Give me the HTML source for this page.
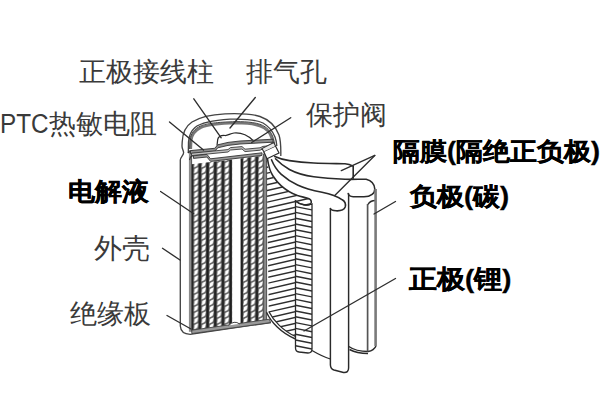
<!DOCTYPE html>
<html><head><meta charset="utf-8">
<style>
html,body{margin:0;padding:0;background:#fff;width:600px;height:400px;overflow:hidden;position:relative}
.t{position:absolute;font-family:"Liberation Sans",sans-serif;font-size:27px;line-height:1;white-space:nowrap;color:#3a3a3a;font-weight:400}
.b{font-weight:700;color:#000;-webkit-text-stroke:0.35px #000;transform:scaleY(0.93);transform-origin:0 0}
svg{position:absolute;left:0;top:0}
</style></head><body>
<svg width="600" height="400" viewBox="0 0 600 400">
<defs>
 <pattern id="cellL" x="193.6" y="0" width="7.7" height="6" patternUnits="userSpaceOnUse">
  <rect x="0" y="0" width="7.7" height="6" fill="#666"/>
  <rect x="5.1" y="0" width="2.3" height="6" fill="#1e1e1e"/>
  <polygon points="0.2,5.4 0.9,1.6 2.0,0.4 4.7,-0.8 4.0,3.0 2.9,4.2" fill="#fff"/>
  <polygon points="0.2,11.4 0.9,7.6 2.0,6.4 4.7,5.2 4.0,9.0 2.9,10.2" fill="#fff"/>
 </pattern>
 <pattern id="cellR" x="243" y="0" width="7.6" height="6" patternUnits="userSpaceOnUse">
  <rect x="0" y="0" width="7.6" height="6" fill="#666"/>
  <rect x="5.1" y="0" width="2.3" height="6" fill="#1e1e1e"/>
  <polygon points="0.2,5.4 0.9,1.6 2.0,0.4 4.7,-0.8 4.0,3.0 2.9,4.2" fill="#fff"/>
  <polygon points="0.2,11.4 0.9,7.6 2.0,6.4 4.7,5.2 4.0,9.0 2.9,10.2" fill="#fff"/>
 </pattern>
</defs>
<polygon points="191.5,164.32 232.2,159.44 232.2,324.83 191.5,330.57" fill="url(#cellL)"/>
<polygon points="240.5,158.44 263.2,155.72 263.2,320.46 240.5,323.66" fill="url(#cellR)"/>
<line x1="190.2" y1="150" x2="190.2" y2="331.8" stroke="#8c8c8c" stroke-width="2.6"/>
<line x1="191.6" y1="152" x2="191.6" y2="331.6" stroke="#444" stroke-width="0.9"/>
<line x1="265" y1="150" x2="265" y2="320.2" stroke="#8c8c8c" stroke-width="3"/>
<line x1="263.6" y1="154" x2="263.6" y2="320.4" stroke="#444" stroke-width="0.9"/>
<line x1="266.6" y1="154" x2="266.6" y2="320.0" stroke="#444" stroke-width="0.9"/>
<clipPath id="cA"><path d="M266.5,159 C267.5,166 269,171.5 272,176 C274.5,180 278,183 281.3,185.8 C286,190 292,193.5 297.5,195.5 C302,197 306,197.5 309,198.8 C311.5,200 312,202.5 310.5,204 C308,206 300,205 295.5,201 L295.5,336.5 C284,331 275,322 268.8,311.5 Z"/></clipPath>
<g clip-path="url(#cA)" stroke="#2e2e2e" stroke-width="1.45"><line x1="266" y1="138.60" x2="312" y2="128.10"/><line x1="266" y1="144.40" x2="312" y2="133.90"/><line x1="266" y1="150.20" x2="312" y2="139.70"/><line x1="266" y1="156.00" x2="312" y2="145.50"/><line x1="266" y1="161.80" x2="312" y2="151.30"/><line x1="266" y1="167.60" x2="312" y2="157.10"/><line x1="266" y1="173.40" x2="312" y2="162.90"/><line x1="266" y1="179.20" x2="312" y2="168.70"/><line x1="266" y1="185.00" x2="312" y2="174.50"/><line x1="266" y1="190.80" x2="312" y2="180.30"/><line x1="266" y1="196.60" x2="312" y2="186.10"/><line x1="266" y1="202.40" x2="312" y2="191.90"/><line x1="266" y1="208.20" x2="312" y2="197.70"/><line x1="266" y1="214.00" x2="312" y2="203.50"/><line x1="266" y1="219.80" x2="312" y2="209.30"/><line x1="266" y1="225.60" x2="312" y2="215.10"/><line x1="266" y1="231.40" x2="312" y2="220.90"/><line x1="266" y1="237.20" x2="312" y2="226.70"/><line x1="266" y1="243.00" x2="312" y2="232.50"/><line x1="266" y1="248.80" x2="312" y2="238.30"/><line x1="266" y1="254.60" x2="312" y2="244.10"/><line x1="266" y1="260.40" x2="312" y2="249.90"/><line x1="266" y1="266.20" x2="312" y2="255.70"/><line x1="266" y1="272.00" x2="312" y2="261.50"/><line x1="266" y1="277.80" x2="312" y2="267.30"/><line x1="266" y1="283.60" x2="312" y2="273.10"/><line x1="266" y1="289.40" x2="312" y2="278.90"/><line x1="266" y1="295.20" x2="312" y2="284.70"/><line x1="266" y1="301.00" x2="312" y2="290.50"/><line x1="266" y1="306.80" x2="312" y2="296.30"/><line x1="266" y1="312.60" x2="312" y2="302.10"/><line x1="266" y1="318.40" x2="312" y2="307.90"/><line x1="266" y1="324.20" x2="312" y2="313.70"/><line x1="266" y1="330.00" x2="312" y2="319.50"/><line x1="266" y1="335.80" x2="312" y2="325.30"/><line x1="266" y1="341.60" x2="312" y2="331.10"/><line x1="266" y1="347.40" x2="312" y2="336.90"/><line x1="266" y1="353.20" x2="312" y2="342.70"/><line x1="266" y1="359.00" x2="312" y2="348.50"/><line x1="266" y1="364.80" x2="312" y2="354.30"/></g>
<clipPath id="cB"><path d="M295.5,201 C300,205 308,206 312,204 L312,349 Q312,353 308,353 L299,352 Q295.5,351.5 295.5,348 Z"/></clipPath>
<g clip-path="url(#cB)" stroke="#2e2e2e" stroke-width="1.45"><line x1="295.5" y1="125.40" x2="312" y2="128.70"/><line x1="295.5" y1="131.20" x2="312" y2="134.50"/><line x1="295.5" y1="137.00" x2="312" y2="140.30"/><line x1="295.5" y1="142.80" x2="312" y2="146.10"/><line x1="295.5" y1="148.60" x2="312" y2="151.90"/><line x1="295.5" y1="154.40" x2="312" y2="157.70"/><line x1="295.5" y1="160.20" x2="312" y2="163.50"/><line x1="295.5" y1="166.00" x2="312" y2="169.30"/><line x1="295.5" y1="171.80" x2="312" y2="175.10"/><line x1="295.5" y1="177.60" x2="312" y2="180.90"/><line x1="295.5" y1="183.40" x2="312" y2="186.70"/><line x1="295.5" y1="189.20" x2="312" y2="192.50"/><line x1="295.5" y1="195.00" x2="312" y2="198.30"/><line x1="295.5" y1="200.80" x2="312" y2="204.10"/><line x1="295.5" y1="206.60" x2="312" y2="209.90"/><line x1="295.5" y1="212.40" x2="312" y2="215.70"/><line x1="295.5" y1="218.20" x2="312" y2="221.50"/><line x1="295.5" y1="224.00" x2="312" y2="227.30"/><line x1="295.5" y1="229.80" x2="312" y2="233.10"/><line x1="295.5" y1="235.60" x2="312" y2="238.90"/><line x1="295.5" y1="241.40" x2="312" y2="244.70"/><line x1="295.5" y1="247.20" x2="312" y2="250.50"/><line x1="295.5" y1="253.00" x2="312" y2="256.30"/><line x1="295.5" y1="258.80" x2="312" y2="262.10"/><line x1="295.5" y1="264.60" x2="312" y2="267.90"/><line x1="295.5" y1="270.40" x2="312" y2="273.70"/><line x1="295.5" y1="276.20" x2="312" y2="279.50"/><line x1="295.5" y1="282.00" x2="312" y2="285.30"/><line x1="295.5" y1="287.80" x2="312" y2="291.10"/><line x1="295.5" y1="293.60" x2="312" y2="296.90"/><line x1="295.5" y1="299.40" x2="312" y2="302.70"/><line x1="295.5" y1="305.20" x2="312" y2="308.50"/><line x1="295.5" y1="311.00" x2="312" y2="314.30"/><line x1="295.5" y1="316.80" x2="312" y2="320.10"/><line x1="295.5" y1="322.60" x2="312" y2="325.90"/><line x1="295.5" y1="328.40" x2="312" y2="331.70"/><line x1="295.5" y1="334.20" x2="312" y2="337.50"/><line x1="295.5" y1="340.00" x2="312" y2="343.30"/><line x1="295.5" y1="345.80" x2="312" y2="349.10"/><line x1="295.5" y1="351.60" x2="312" y2="354.90"/></g>
<path d="M295.5,201 C300,205 308,206 312,204 L312,349 Q312,353 308,353 L299,352 Q295.5,351.5 295.5,348 Z" fill="none" stroke="#2a2a2a" stroke-width="1.3"/>
<path d="M266.5,312.2 C271,322 281,333 295.5,339" fill="none" stroke="#2a2a2a" stroke-width="1.4"/>
<path d="M268.8,311.5 C273,320 283,331 295.5,336.5" fill="none" stroke="#2a2a2a" stroke-width="1.3"/>
<path d="M312,350.5 C318,354 324,357 330.3,359" fill="none" stroke="#2a2a2a" stroke-width="1.3"/>
<path d="M180.3,326 L180.3,160 C180.5,157 183.8,155 183.6,152.5 C183.4,150 182,149 182,146 L182.2,142 C182.5,132 186,126 192,122 C199,117.5 210,114.5 225,113.8 C240,113.2 252,113.8 260,116.5 C270,120 276,127 279,135 C280.6,140 281,146 280.8,156" fill="none" stroke="#444" stroke-width="1.35"/>
<path d="M180.3,326 Q180.8,334 190.2,334.3 L271,322.5" fill="none" stroke="#444" stroke-width="1.35"/>
<path d="M188.3,153 L188.5,142 C188.8,136 191,131 195,127.5 C200,123.5 210,120.5 230,119.2 C245,118.8 256,119.5 263,123 C269,126.5 273,132 275,137 C276.2,140 276.6,143 276.8,146" fill="none" stroke="#444" stroke-width="1.35"/>
<path d="M190.8,149 L191.2,140 C192,134 196,130 201,127.5 C207,125 216,123.6 236,123 C248,123 258,124 264,128 C269,131 272,136 273,144" fill="none" stroke="#777" stroke-width="2.6"/>
<path d="M189.6,149 L189.9,140 C190.8,133 195,128.5 200.5,126 C207,123.5 216,122.2 236,121.6 C248,121.6 259,122.6 265,126.8 C270.5,130.5 273.6,136 274.5,144" fill="none" stroke="#333" stroke-width="0.9"/>
<path d="M188,153 C190,151 192.5,150 194,152 C195,154 193,156 190.5,157 L189.5,160" fill="none" stroke="#333" stroke-width="1.1"/>
<path d="M217,145.5 L217.7,139.5 C218.5,136 221,135.2 225,135.5 C228,135.7 230,133.5 234,133 C240,132.5 247,134.5 253,140.5" fill="none" stroke="#2a2a2a" stroke-width="1.25"/>
<polygon points="190.5,150.60 214.7,148.30 217.8,144.80 228,142.40 240,141.00 273,139.20 273,142.20 240,144.00 228,145.40 217.8,147.80 214.7,151.30 190.5,153.60" fill="#8e8e8e" stroke="#333" stroke-width="0.9"/>
<polygon points="191.5,153.20 228,149.60 230.5,147.60 242,146.60 245,149.20 260,147.80 263,146.40 273,145.40 273,147.80 263,148.80 260,150.20 245,151.60 242,149.00 230.5,150.00 228,152.00 191.5,155.60" fill="#c4c4c4" stroke="#3a3a3a" stroke-width="0.9"/>
<polygon points="193.5,155.80 206.9,154.40 210.6,158.80 262,152.80 262,155.40 210.6,161.40 206.9,157.00 193.5,158.40" fill="#9a9a9a" stroke="#333" stroke-width="0.9"/>
<path d="M263.7,151.5 L275.5,146 L279,153 L267,158.7 Z" fill="#fff" stroke="#2a2a2a" stroke-width="1.2"/>
<path d="M263.7,151.5 L261.9,148.6 L273.8,142.6 L275.5,146" fill="#e8e8e8" stroke="#333" stroke-width="1.1"/>
<path d="M191.8,330.2 L269.5,319.2 L270.5,322.6 L191.8,333.6 Z" fill="#9a9a9a" stroke="#444" stroke-width="0.9"/>
<path d="M228.5,325.6 Q234,319.8 239.7,324" fill="#fff" stroke="#444" stroke-width="1"/>
<path d="M274.75,156.5 C279,158.5 284,159.8 289.4,160.6 C297,161.8 305,162.6 313.8,163 C325,163.5 338,163.6 345,163.8 C349,164 351,165 353.2,166.3 L353.2,178.2" fill="none" stroke="#2a2a2a" stroke-width="1.6" stroke-linecap="round"/>
<path d="M275.5,158.8 C280,163.5 284,166.5 289.4,169.5 C296,173 304,175.5 313.8,176.8 C325,178.2 335,178.8 345,179.3 C355,179.6 361,179 366.2,179.25 C371,180.5 374.5,184 374.8,189 C375,193 371,196.6 364,196.8 L353.2,196.8 C350,196.6 348.5,195.5 348.2,193.5" fill="none" stroke="#2a2a2a" stroke-width="1.6" stroke-linecap="round"/>
<path d="M271.5,159.8 C274,166 277,170.5 281.3,174.4 C287,179.5 292,182.5 297.5,185 C305,188.5 313,190.5 322,192.3 C330,194 336,195.5 342.3,199.8 C345,201.5 346,204 345.2,207 C344,210 340,211 336,210.8 C333,210.6 331,209.8 330.4,208.5" fill="none" stroke="#2a2a2a" stroke-width="1.6" stroke-linecap="round"/>
<path d="M267.5,159 C268.5,166 270,171.5 273,176 C275.5,180 278,183 281.3,185.8 C286,190 292,193.5 297.5,195.5 C302,197 306,197.5 309,198.8 C311.5,200 312,202.5 310.5,204 C308,206 300,205 295.5,201" fill="none" stroke="#2a2a2a" stroke-width="1.6" stroke-linecap="round"/>
<path d="M330.4,208.5 L330.4,365 Q330.6,369 334,370 L343.5,372.5 Q348.6,373 348.6,368 L348.6,193.5" fill="none" stroke="#2a2a2a" stroke-width="1.45"/>
<path d="M348.8,346.5 Q356,351.5 368,351.5 Q374,350.5 376,346" fill="none" stroke="#2a2a2a" stroke-width="1.45"/>
<path d="M368,204.5 Q370,200.5 375.5,200.5" fill="none" stroke="#2a2a2a" stroke-width="1.45"/>
<path d="M349.5,349.5 Q357,353.5 368,353.5" fill="none" stroke="#2a2a2a" stroke-width="1.45"/>
<line x1="367.6" y1="204" x2="367.6" y2="351.5" stroke="#555" stroke-width="1.7"/>
<line x1="375.6" y1="189" x2="375.6" y2="346" stroke="#7a7a7a" stroke-width="2.6"/>
<g stroke="#2e2e2e" stroke-width="1.35" stroke-linecap="round"><line x1="193.8" y1="98.8" x2="221.2" y2="137.8"/><line x1="255.3" y1="97.5" x2="230" y2="128"/><line x1="169.5" y1="122" x2="203.5" y2="150"/><line x1="290.7" y1="117.7" x2="251.7" y2="142.5"/><line x1="374.8" y1="155.4" x2="341.3" y2="170.6"/><line x1="374.8" y1="155.4" x2="334.75" y2="195.5"/><line x1="395.5" y1="201.5" x2="374" y2="214"/><line x1="160.6" y1="191.5" x2="193.75" y2="213.75"/><line x1="162.5" y1="248.3" x2="180" y2="260"/><line x1="167" y1="315.5" x2="191" y2="329"/><line x1="395.5" y1="278.5" x2="304" y2="331"/></g>
</svg>
<div class="t" style="left:79px;top:57.5px;font-size:27.3px">正极接线柱</div>
<div class="t" style="left:246px;top:57.8px;font-size:27.3px">排气孔</div>
<div class="t" style="left:0px;top:111px;transform:scaleX(0.9);transform-origin:0 0">PTC</div><div class="t" style="left:49px;top:111px">热敏电阻</div>
<div class="t" style="left:306px;top:100.6px;font-size:27.3px">保护阀</div>
<div class="t b" style="left:393px;top:140px">隔膜(隔绝正负极)</div>
<div class="t b" style="left:68px;top:179.5px">电解液</div>
<div class="t b" style="left:410px;top:184px;font-size:27.3px">负极(碳)</div>
<div class="t" style="left:94px;top:235px;font-size:28px">外壳</div>
<div class="t b" style="left:409px;top:266.5px;font-size:27.5px">正极(锂)</div>
<div class="t" style="left:70px;top:300px;font-size:27.2px">绝缘板</div>
</body></html>
